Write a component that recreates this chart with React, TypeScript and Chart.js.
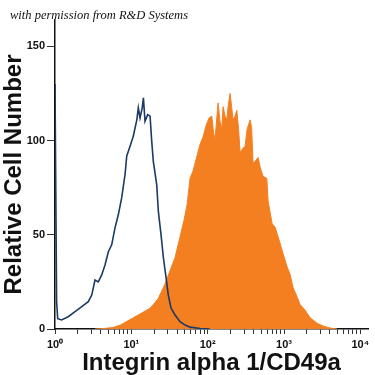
import React, { useEffect, useRef } from "react";
import { Chart, registerables } from "chart.js";

Chart.register(...registerables);

// Isotype control (blue outline) – fluorescence intensity and relative cell number
const isotypeX = [1, 1.05, 1.085, 1.22, 1.49, 1.83, 2.24, 2.73, 3.03, 3.34, 3.69, 4.09, 4.52, 5.0, 5.53, 6.11, 6.75, 7.48, 8.27, 8.7, 9.62, 10.6, 11.8, 12.35, 13.0, 13.9, 14.4, 15.1, 16.4, 17.6, 18.5, 19.4, 21.5, 22.6, 24.5, 26.3, 28.2, 30.5, 33.1, 37.4, 43.5, 50.6, 58.8, 79.5, 107];
const isotypeY = [130, 14.5, 5.5, 4.8, 6.5, 9.2, 11.9, 14.5, 18, 26, 25, 28.7, 34, 41, 44.7, 53.7, 60.6, 69.7, 82, 91.7, 97, 102.3, 111, 117.4, 112, 117.4, 122.7, 110.3, 113.8, 113, 99.6, 89, 76.6, 62.4, 50, 37.8, 28.7, 18, 11.2, 7.4, 3.9, 2.1, 1, 0.3, 0];

// Integrin alpha 1 / CD49a stained (orange filled)
const stainedX = [3.34, 4.52, 5.76, 7.11, 9.62, 13.0, 17.6, 22.4, 27.7, 32.2, 37.4, 43.5, 49.1, 53.7, 58.8, 64.4, 72.6, 79.5, 87.1, 95.3, 104.3, 113.2, 119.5, 125.0, 136.9, 145.4, 153.0, 159.1, 169.0, 178.0, 185.1, 196.7, 205.8, 215.3, 228.7, 240.7, 254.1, 265.9, 279.9, 291.1, 309.3, 328.5, 359.5, 376.2, 393.6, 418.2, 457.8, 486.3, 532.2, 595.2, 618.9, 698.2, 764.4, 837.0, 973.2, 1098, 1202, 1316, 1485, 1626, 1890, 2198, 2716, 3254, 4020, 4966];
const stainedY = [0, 0.3, 0.8, 2, 5, 8, 11, 16, 24, 31, 38, 49, 58, 66, 80, 84, 92, 98, 102, 108, 112, 113, 104, 101, 120, 110, 106, 118, 113, 111, 118, 125, 118, 111, 113, 116, 106, 94, 95, 96, 97, 106, 111, 107, 88, 89, 91, 86, 81, 80, 68, 56, 54, 49, 40, 33, 29, 22, 17, 13, 10, 6, 3, 1.6, 0.5, 0];

const decadeTicks = [1, 10, 100, 1000, 10000];
const decadeLabels = ["10\u2070", "10\u00B9", "10\u00B2", "10\u00B3", "10\u2074"];
const minorMultipliers = [2, 3, 4, 5, 6, 7, 8, 9];
const yTicks = [0, 50, 100, 150];

const xMin = 1;
const xMax = 12600;
const yMin = 0;
const yMax = 164;

const xTitle = "Integrin alpha 1/CD49a";
const yTitle = "Relative Cell Number";
const credit = "with permission from R&D Systems";

const creditPlugin = {
  id: "credit",
  afterDraw(chart: any) {
    const ctx = chart.ctx;
    ctx.save();
    ctx.font = 'italic 12.5px "Liberation Serif", "DejaVu Serif", serif';
    ctx.fillStyle = "#111";
    ctx.textBaseline = "alphabetic";
    ctx.textAlign = "left";
    ctx.fillText(credit, 10, 19);
    ctx.restore();
  },
};

export default function App() {
  const ref = useRef<HTMLCanvasElement | null>(null);

  useEffect(() => {
    document.body.style.margin = "0";
    const canvas = ref.current;
    if (!canvas) return;

    const allXTicks: number[] = [];
    decadeTicks.forEach((d, i) => {
      allXTicks.push(d);
      if (i < decadeTicks.length - 1) minorMultipliers.forEach((m) => allXTicks.push(d * m));
    });

    const chart = new Chart(canvas, {
      type: "line",
      data: {
        datasets: [
          {
            label: "Integrin alpha 1/CD49a",
            data: stainedX.map((x, i) => ({ x, y: stainedY[i] })),
            borderColor: "#f47f20",
            backgroundColor: "#f47f20",
            borderWidth: 1,
            fill: "origin",
            pointRadius: 0,
            tension: 0,
            order: 2,
          },
          {
            label: "Isotype",
            data: isotypeX.map((x, i) => ({ x, y: isotypeY[i] })),
            borderColor: "#1b3a66",
            backgroundColor: "rgba(0,0,0,0)",
            borderWidth: 1.6,
            fill: false,
            pointRadius: 0,
            tension: 0,
            order: 1,
          },
        ],
      },
      options: {
        responsive: false,
        animation: false,
        devicePixelRatio: 1,
        layout: { padding: { top: 20, right: 7, left: 0, bottom: 0 } },
        plugins: {
          legend: { display: false },
          tooltip: { enabled: false },
        },
        scales: {
          x: {
            type: "logarithmic",
            min: xMin,
            max: xMax,
            afterFit: (s: any) => {
              s.height = 46;
            },
            afterBuildTicks: (s: any) => {
              s.ticks = allXTicks.map((v) => ({ value: v, major: decadeTicks.includes(v) }));
            },
            border: { display: true, color: "#111", width: 1.5 },
            grid: {
              display: true,
              drawOnChartArea: false,
              drawTicks: true,
              tickLength: 5,
              tickColor: "#333",
              tickWidth: 1,
            },
            ticks: {
              autoSkip: false,
              maxRotation: 0,
              padding: 4,
              color: "#111",
              font: { family: '"Liberation Sans", Arial, sans-serif', size: 11, weight: "bold" },
              callback: (v: any) => {
                const idx = decadeTicks.indexOf(Number(v));
                return idx >= 0 ? decadeLabels[idx] : "";
              },
            },
            title: {
              display: true,
              text: xTitle,
              color: "#111",
              padding: { top: 0, bottom: -3 },
              font: { family: '"Liberation Sans", Arial, sans-serif', size: 24, weight: "bold" },
            },
          },
          y: {
            type: "linear",
            min: yMin,
            max: yMax,
            afterFit: (s: any) => {
              s.width = 55;
            },
            afterBuildTicks: (s: any) => {
              s.ticks = yTicks.map((v) => ({ value: v }));
            },
            border: { display: true, color: "#111", width: 1.5 },
            grid: {
              display: true,
              drawOnChartArea: false,
              drawTicks: true,
              tickLength: 8,
              tickColor: "#333",
            },
            ticks: {
              padding: 2,
              color: "#111",
              font: { family: '"Liberation Sans", Arial, sans-serif', size: 11, weight: "bold" },
            },
            title: {
              display: true,
              text: yTitle,
              color: "#111",
              padding: 0,
              font: { family: '"Liberation Sans", Arial, sans-serif', size: 24, weight: "bold" },
            },
          },
        },
      },
      plugins: [creditPlugin],
    });

    return () => chart.destroy();
  }, []);

  return (
    <div style={{ width: 375, height: 375, background: "#fff" }}>
      <canvas ref={ref} width={375} height={375} style={{ display: "block" }} />
    </div>
  );
}
